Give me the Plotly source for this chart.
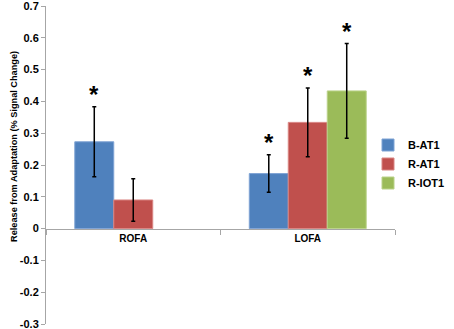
import plotly.graph_objects as go

categories = ["ROFA", "LOFA"]
series_names = ["B-AT1", "R-AT1", "R-IOT1"]
b_at1 = [0.273, 0.173]
r_at1 = [0.090, 0.334]
r_iot1 = [None, 0.433]
b_at1_err = [0.110, 0.059]
r_at1_err = [0.067, 0.108]
r_iot1_err = [None, 0.149]
# significance stars (True = show asterisk)
b_at1_sig = [True, True]
r_at1_sig = [False, True]
r_iot1_sig = [False, True]
y_tick_vals = [-0.3, -0.2, -0.1, 0, 0.1, 0.2, 0.3, 0.4, 0.5, 0.6, 0.7]
y_tick_text = ["-0.3", "-0.2", "-0.1", "0", "0.1", "0.2", "0.3", "0.4", "0.5", "0.6", "0.7"]

colors = ["#4F81BD", "#C0504D", "#9BBB59"]
edge = ["#7FA3D4", "#D98583", "#BAD28A"]

values = [b_at1, r_at1, r_iot1]
errors = [b_at1_err, r_at1_err, r_iot1_err]
sigs = [b_at1_sig, r_at1_sig, r_iot1_sig]

BARGAP = 0.33
FONT = "Liberation Sans"
L, R, T, B = 46, 59, 6, 5
PW, PH = 454 - L - R, 329 - T - B

fig = go.Figure()
for i, name in enumerate(series_names):
    fig.add_trace(go.Bar(
        x=categories, y=values[i], name=name,
        marker=dict(color=colors[i], line=dict(color=edge[i], width=1)),
        error_y=dict(type="data", array=errors[i], visible=True,
                     color="#000000", thickness=1.5, width=2),
    ))

# asterisks above error bars
w = (1 - BARGAP) / len(series_names)
for i in range(len(series_names)):
    for j, cat in enumerate(categories):
        if sigs[i][j] and values[i][j] is not None:
            fig.add_annotation(
                x=j + (i - 1) * w, y=values[i][j] + errors[i][j],
                xref="x", yref="y", text="*", showarrow=False,
                yanchor="bottom", yshift=-3,
                font=dict(family=FONT, size=24, color="#000000", weight="bold"),
            )

fig.add_annotation(
    xref="paper", yref="paper", x=(7 - L) / PW, y=(329 - B - 147) / PH,
    text="Release from Adaptation (% Signal Change)",
    showarrow=False, textangle=-90,
    font=dict(family=FONT, size=9.2, color="#000000", weight="bold"),
)

fig.update_layout(
    width=454, height=329,
    margin=dict(l=L, r=R, t=T, b=B, autoexpand=False),
    barmode="group", bargap=BARGAP, bargroupgap=0,
    plot_bgcolor="white", paper_bgcolor="white",
    font=dict(family=FONT, color="#000000"),
    showlegend=True,
    legend=dict(x=(368 - L) / PW, y=(329 - B - 164) / PH, xanchor="left", yanchor="middle",
                bgcolor="rgba(0,0,0,0)", itemwidth=30,
                font=dict(family=FONT, size=11, color="#000000", weight="bold")),
    xaxis=dict(
        type="category", anchor="free", position=0.3, automargin=False,
        showline=True, linecolor="#A6A6A6", linewidth=1,
        ticks="outside", tickson="boundaries", ticklen=5, tickcolor="#A6A6A6",
        tickfont=dict(family=FONT, size=10, color="#000000", weight="bold"),
        showgrid=False, zeroline=False,
    ),
    yaxis=dict(
        range=[-0.3, 0.7], tickvals=y_tick_vals, ticktext=y_tick_text, automargin=False,
        ticklabeloverflow="allow",
        showline=True, linecolor="#A6A6A6", linewidth=1,
        ticks="outside", ticklen=4, tickcolor="#A6A6A6",
        tickfont=dict(family=FONT, size=11, color="#000000", weight="bold"),
        showgrid=False, zeroline=False,
    ),
)

fig.write_html("out.html", config={"displayModeBar": False},
               post_script="document.body.style.margin='0';")
